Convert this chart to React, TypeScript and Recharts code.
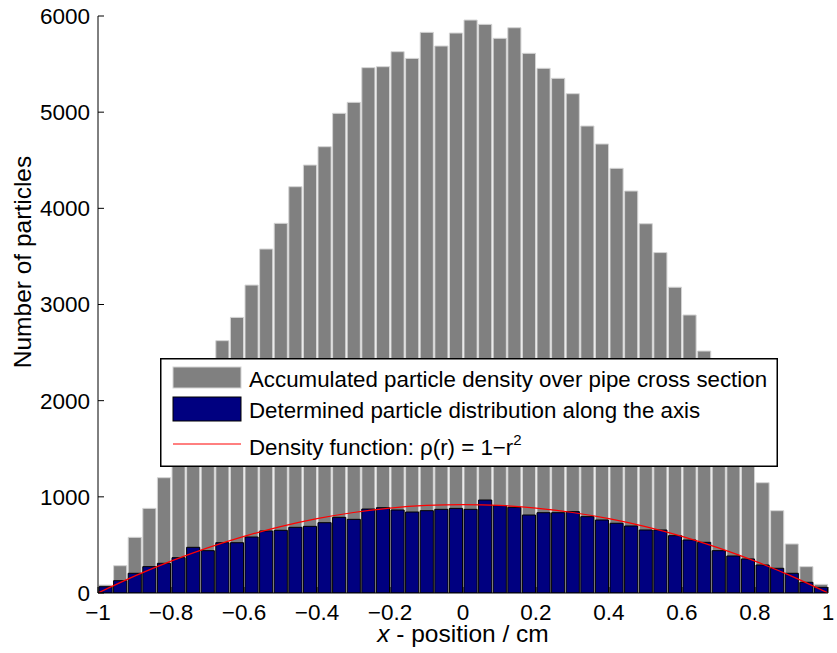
import React from 'react';
import { ComposedChart, Bar, Line, XAxis, YAxis, Legend } from 'recharts';

const binCenters = [
  -0.98, -0.94, -0.9, -0.86, -0.82, -0.78, -0.74, -0.7, -0.66, -0.62,
  -0.58, -0.54, -0.5, -0.46, -0.42, -0.38, -0.34, -0.3, -0.26, -0.22,
  -0.18, -0.14, -0.1, -0.06, -0.02, 0.02, 0.06, 0.1, 0.14, 0.18,
  0.22, 0.26, 0.3, 0.34, 0.38, 0.42, 0.46, 0.5, 0.54, 0.58,
  0.62, 0.66, 0.7, 0.74, 0.78, 0.82, 0.86, 0.9, 0.94, 0.98,
];

const accumulatedCounts = [
  83, 284, 579, 880, 1199, 1540, 1900, 2250, 2624, 2866,
  3202, 3577, 3844, 4225, 4450, 4641, 4988, 5102, 5463, 5473,
  5629, 5559, 5830, 5688, 5823, 5958, 5913, 5768, 5878, 5612,
  5456, 5352, 5192, 4856, 4669, 4416, 4180, 3840, 3540, 3180,
  2891, 2516, 2170, 1830, 1490, 1147, 856, 510, 274, 90,
];

const axisCounts = [
  65, 128, 205, 274, 309, 367, 475, 440, 523, 523,
  582, 645, 652, 683, 693, 731, 787, 766, 873, 887,
  863, 842, 856, 870, 880, 870, 967, 908, 891, 811,
  835, 835, 846, 794, 759, 725, 697, 655, 655, 596,
  551, 527, 440, 385, 354, 291, 257, 205, 111, 59,
];

const densityX = [-1, -0.9, -0.8, -0.7, -0.6, -0.5, -0.4, -0.3, -0.2, -0.1, 0, 0.1, 0.2, 0.3, 0.4, 0.5, 0.6, 0.7, 0.8, 0.9, 1];
const densityY = [0, 175, 331, 469, 589, 690, 773, 837, 883, 911, 920, 911, 883, 837, 773, 690, 589, 469, 331, 175, 0];

const xTicks = [-1, -0.8, -0.6, -0.4, -0.2, 0, 0.2, 0.4, 0.6, 0.8, 1];
const xTickLabels = ['\u22121', '\u22120.8', '\u22120.6', '\u22120.4', '\u22120.2', '0', '0.2', '0.4', '0.6', '0.8', '1'];
const yTicks = [0, 1000, 2000, 3000, 4000, 5000, 6000];

const legendLabels = [
  'Accumulated particle density over pipe cross section',
  'Determined particle distribution along the axis',
  'Density function: \u03c1(r) = 1\u2212r',
];

const barData = binCenters.map((x, i) => ({ x, gray: accumulatedCounts[i], blue: axisCounts[i] }));
const lineData = densityX.map((x, i) => ({ x, rho: densityY[i] }));

const FONT = '"Liberation Sans", Arial, Helvetica, sans-serif';
const TICK_FS = 22.5;
const LABEL_FS = 24.5;
const LEGEND_FS = 22.3;
const TICK_LEN = 6;

const BottomTick = (props: any) => {
  const { x, y, payload } = props;
  const idx = xTicks.indexOf(payload.value);
  const label = idx >= 0 ? xTickLabels[idx] : String(payload.value);
  return (
    <g>
      <line x1={x} x2={x} y1={y - 11} y2={y - 11 - TICK_LEN} stroke="#000" strokeWidth={1} />
      <text x={x} y={y} dy="0.71em" textAnchor="middle" fontSize={TICK_FS} fontFamily={FONT} fill="#000">
        {label}
      </text>
    </g>
  );
};

const TopTick = (props: any) => {
  const { x, y } = props;
  return <line x1={x} x2={x} y1={y} y2={y + TICK_LEN} stroke="#000" strokeWidth={1} />;
};

const LeftTick = (props: any) => {
  const { x, y, payload } = props;
  return (
    <g>
      <line x1={x + 8} x2={x + 8 + TICK_LEN} y1={y} y2={y} stroke="#000" strokeWidth={1} />
      <text x={x} y={y} dy="0.355em" textAnchor="end" fontSize={TICK_FS} fontFamily={FONT} fill="#000">
        {payload.value}
      </text>
    </g>
  );
};

const RightTick = (props: any) => {
  const { x, y } = props;
  return <line x1={x} x2={x - TICK_LEN} y1={y} y2={y} stroke="#000" strokeWidth={1} />;
};

const XTitle = (props: any) => {
  const vb = props.viewBox || { x: 98, y: 593, width: 730, height: 60 };
  const cx = vb.x + vb.width / 2;
  return (
    <text x={cx} y={vb.y + 49} textAnchor="middle" fontSize={LABEL_FS} fontFamily={FONT} fill="#000">
      <tspan fontStyle="italic">x</tspan>
      <tspan> - position / cm</tspan>
    </text>
  );
};

const YTitle = () => {
  return (
    <text
      transform="translate(31, 262) rotate(-90)"
      textAnchor="middle"
      fontSize={LABEL_FS}
      fontFamily={FONT}
      fill="#000"
    >
      Number of particles
    </text>
  );
};

const LegendBox = () => {
  const w = 618;
  const h = 109;
  return (
    <svg width={w} height={h} style={{ display: 'block' }}>
      <rect x={0.75} y={0.75} width={w - 1.5} height={h - 1.5} fill="#fff" stroke="#000" strokeWidth={1.5} />
      <rect x={13} y={9} width={68} height={21} fill="#808080" stroke="#d4d4d4" strokeWidth={1} />
      <rect x={13} y={39} width={68} height={24} fill="#000080" stroke="#000" strokeWidth={1} />
      <line x1={13} x2={81} y1={86} y2={86} stroke="#ff0000" strokeWidth={1} />
      <text x={89} y={28.5} fontSize={LEGEND_FS} fontFamily={FONT} fill="#000">{legendLabels[0]}</text>
      <text x={89} y={60} fontSize={LEGEND_FS} fontFamily={FONT} fill="#000">{legendLabels[1]}</text>
      <text x={89} y={97} fontSize={LEGEND_FS} fontFamily={FONT} fill="#000">
        {legendLabels[2]}
        <tspan fontSize={15} dy={-10}>2</tspan>
      </text>
    </svg>
  );
};

export default function App() {
  return (
    <div style={{ position: 'absolute', left: 0, top: 0, width: 837, height: 653, background: '#fff' }}>
      <ComposedChart
        width={837}
        height={653}
        data={barData}
        margin={{ top: 16, right: 9, bottom: 0, left: 0 }}
      >
        <XAxis
          xAxisId="a"
          dataKey="x"
          type="number"
          domain={[-1, 1]}
          ticks={xTicks}
          interval={0}
          height={60}
          tickSize={0}
          tickMargin={11}
          tick={<BottomTick />}
          axisLine={{ stroke: '#000', strokeWidth: 1 }}
          allowDataOverflow
          label={<XTitle />}
        />
        <XAxis xAxisId="b" dataKey="x" type="number" domain={[-1, 1]} hide allowDataOverflow />
        <XAxis xAxisId="c" dataKey="x" type="number" domain={[-1, 1]} hide allowDataOverflow />
        <XAxis
          xAxisId="t"
          orientation="top"
          type="number"
          domain={[-1, 1]}
          ticks={xTicks}
          interval={0}
          height={0}
          tickSize={0}
          tickMargin={0}
          tick={<TopTick />}
          axisLine={{ stroke: '#000', strokeWidth: 1 }}
          allowDataOverflow
        />
        <YAxis
          yAxisId="l"
          type="number"
          domain={[0, 6000]}
          ticks={yTicks}
          interval={0}
          width={98}
          tickSize={0}
          tickMargin={8}
          tick={<LeftTick />}
          axisLine={{ stroke: '#000', strokeWidth: 1 }}
          allowDataOverflow
          label={<YTitle />}
        />
        <YAxis
          yAxisId="r"
          orientation="right"
          type="number"
          domain={[0, 6000]}
          ticks={yTicks}
          interval={0}
          width={0}
          tickSize={0}
          tickMargin={0}
          tick={<RightTick />}
          axisLine={{ stroke: '#000', strokeWidth: 1 }}
          allowDataOverflow
        />
        <Bar
          xAxisId="a"
          yAxisId="l"
          dataKey="gray"
          fill="#808080"
          stroke="#d4d4d4"
          strokeWidth={1}
          barSize={14.6}
          isAnimationActive={false}
        />
        <Bar
          xAxisId="b"
          yAxisId="l"
          dataKey="blue"
          fill="#000080"
          stroke="#000"
          strokeWidth={1}
          barSize={14.6}
          isAnimationActive={false}
        />
        <Line
          xAxisId="c"
          yAxisId="l"
          data={lineData}
          dataKey="rho"
          type="natural"
          stroke="#ff0000"
          strokeWidth={1.2}
          dot={false}
          activeDot={false}
          isAnimationActive={false}
        />
        <Legend
          layout="horizontal"
          verticalAlign="middle"
          align="center"
          wrapperStyle={{ position: 'absolute', left: 160, top: 358, width: 618, height: 109 }}
          content={<LegendBox />}
        />
      </ComposedChart>
    </div>
  );
}
